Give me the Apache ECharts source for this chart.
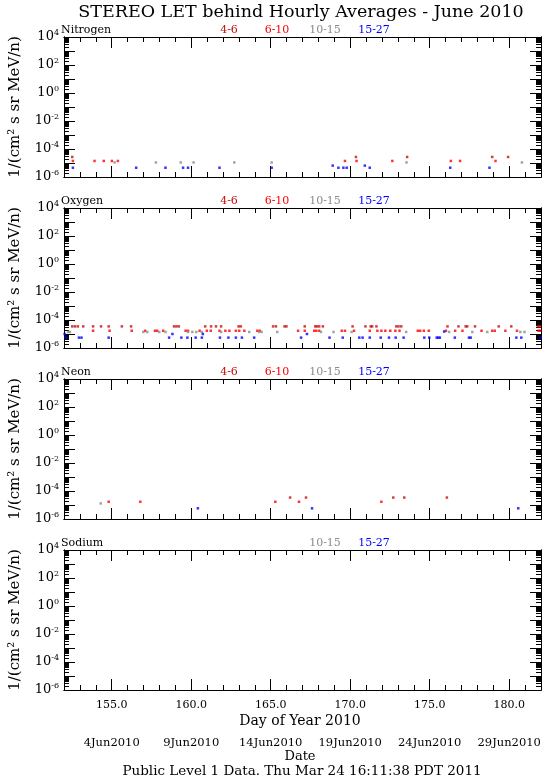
<!DOCTYPE html>
<html><head><meta charset="utf-8">
<script src="https://cdn.jsdelivr.net/npm/echarts@6/dist/echarts.min.js"></script>
<style>html,body{margin:0;padding:0;background:#fff}#c{position:relative;width:545px;height:777px}.p{position:absolute;left:0;width:545px}</style>
</head><body><div id="c"></div>
<script>
const titleText = 'STEREO LET behind Hourly Averages - June 2010';
const panelNames = ['Nitrogen', 'Oxygen', 'Neon', 'Sodium'];
const channelNames = ['4-6', '6-10', '10-15', '15-27'];
const channelColors = ['#c41010', '#ff0000', '#8c8c8c', '#0000ff'];
const panelChannels = [[0,1,2,3],[0,1,2,3],[0,1,2,3],[2,3]];
const dayTicks = [155, 160, 165, 170, 175, 180];
const dateLabels = ['4Jun2010', '9Jun2010', '14Jun2010', '19Jun2010', '24Jun2010', '29Jun2010'];
const decadeTicks = [1e-6, 1e-5, 1e-4, 1e-3, 1e-2, 1e-1, 1, 1e1, 1e2, 1e3, 1e4];
const labelTicks = [1e-6, 1e-4, 1e-2, 1, 1e2, 1e4];
const minorMantissas = [2, 3, 4, 5, 6, 7, 8, 9];
const yUnit = '1/(cm\u00b2 s sr MeV/n)';

// ---- data: [day of year, intensity] ----
const nitrogen_4_6 = [[152.52,2.7e-5],[170.36,2.7e-5],[173.58,2.7e-5],[178.93,2.7e-5],[179.93,2.7e-5]];
const nitrogen_6_10 = [[152.56,1.4e-5],[153.92,1.4e-5],[154.5,1.4e-5],[155.01,1.4e-5],[155.39,1.4e-5],[169.67,1.4e-5],[170.4,1.4e-5],[172.65,1.4e-5],[176.33,1.4e-5],[176.91,1.4e-5],[179.14,1.4e-5]];
const nitrogen_10_15 = [[155.18,1.1e-5],[157.78,1.1e-5],[159.34,1.1e-5],[160.15,1.1e-5],[162.71,1.1e-5],[165.06,1.1e-5],[173.54,1.1e-5],[180.8,1.1e-5]];
const nitrogen_15_27 = [[152.56,4.6e-6],[156.54,4.6e-6],[158.38,4.6e-6],[159.49,4.6e-6],[159.8,4.6e-6],[161.78,4.6e-6],[165.06,4.6e-6],[168.9,6.5e-6],[169.26,4.6e-6],[169.57,4.6e-6],[169.78,4.6e-6],[170.92,6.5e-6],[171.23,4.6e-6],[176.29,4.6e-6],[178.76,4.6e-6]];

const oxygen_4_6 = [[152.52,3.5e-5],[152.69,3.5e-5],[152.87,3.5e-5],[153.21,3.5e-5],[153.83,3.5e-5],[154.33,3.5e-5],[154.81,3.5e-5],[155.64,3.5e-5],[156.22,3.5e-5],[158.92,3.5e-5],[159.07,3.5e-5],[159.22,3.5e-5],[160.88,3.5e-5],[161.25,3.5e-5],[161.56,3.5e-5],[161.88,3.5e-5],[162.98,3.5e-5],[163.12,3.5e-5],[165.15,3.5e-5],[165.33,3.5e-5],[165.87,3.5e-5],[165.99,3.5e-5],[167.14,3.5e-5],[167.8,3.5e-5],[167.91,3.5e-5],[168.05,3.5e-5],[168.28,3.5e-5],[170.15,3.5e-5],[170.96,3.5e-5],[171.29,3.5e-5],[171.38,3.5e-5],[171.65,3.5e-5],[172.9,3.5e-5],[173.04,3.5e-5],[173.21,3.5e-5],[176.12,3.5e-5],[176.81,3.5e-5],[177.26,3.5e-5],[177.36,3.5e-5],[177.85,3.5e-5],[179.34,3.5e-5],[180.13,3.5e-5],[181.8,3.5e-5],[181.94,3.5e-5]];
const oxygen_6_10 = [[153.83,1.7e-5],[154.87,1.7e-5],[156.26,1.7e-5],[157.1,1.7e-5],[157.72,1.7e-5],[157.86,1.7e-5],[158.24,1.7e-5],[159.65,1.7e-5],[159.8,1.7e-5],[160.53,1.7e-5],[160.98,1.7e-5],[161.23,1.7e-5],[161.78,1.7e-5],[162.15,1.7e-5],[162.4,1.7e-5],[162.81,1.7e-5],[163.02,1.7e-5],[163.34,1.7e-5],[164.16,1.7e-5],[164.31,1.7e-5],[166.72,1.7e-5],[167.14,1.7e-5],[167.74,1.7e-5],[167.87,1.7e-5],[168.05,1.7e-5],[169.47,1.7e-5],[169.67,1.7e-5],[170.24,1.7e-5],[171.23,1.7e-5],[171.71,1.7e-5],[171.96,1.7e-5],[172.21,1.7e-5],[172.52,1.7e-5],[172.84,1.7e-5],[173.1,1.7e-5],[174.25,1.7e-5],[174.4,1.7e-5],[174.63,1.7e-5],[174.94,1.7e-5],[176.02,1.7e-5],[176.6,1.7e-5],[177.06,1.7e-5],[178.26,1.7e-5],[178.93,1.7e-5],[179.09,1.7e-5],[179.76,1.7e-5],[180.49,1.7e-5],[181.84,1.7e-5],[181.95,1.7e-5]];
const oxygen_10_15 = [[152.25,1.4e-5],[152.37,1.4e-5],[156.99,1.4e-5],[157.24,1.4e-5],[157.99,1.4e-5],[158.38,1.4e-5],[159.8,1.4e-5],[160.07,1.4e-5],[160.32,1.4e-5],[160.67,1.4e-5],[161.88,1.4e-5],[163.65,1.4e-5],[164.27,1.4e-5],[164.43,1.4e-5],[165.41,1.4e-5],[168.16,1.4e-5],[168.95,1.4e-5],[170.09,1.4e-5],[173.52,1.4e-5],[176.22,1.4e-5],[177.68,1.4e-5],[178.62,1.4e-5],[180.7,1.4e-5],[180.96,1.4e-5]];
const oxygen_15_27 = [[152.04,1.0e-5],[152.12,5.5e-6],[152.94,5.5e-6],[153.1,5.5e-6],[154.81,5.5e-6],[158.61,5.5e-6],[158.82,1.0e-5],[159.38,5.5e-6],[159.76,5.5e-6],[160.28,5.5e-6],[160.67,5.5e-6],[160.73,1.0e-5],[161.81,5.5e-6],[162.34,5.5e-6],[162.81,5.5e-6],[163.19,5.5e-6],[163.96,5.5e-6],[166.91,5.5e-6],[167.28,1.0e-5],[168.7,5.5e-6],[169.53,5.5e-6],[170.57,5.5e-6],[170.78,5.5e-6],[171.23,5.5e-6],[171.92,5.5e-6],[172.44,5.5e-6],[172.86,5.5e-6],[173.36,5.5e-6],[174.66,5.5e-6],[174.97,5.5e-6],[175.44,5.5e-6],[175.54,5.5e-6],[175.64,5.5e-6],[175.91,1.5e-5],[176.58,5.5e-6],[177.47,5.5e-6],[177.58,5.5e-6],[180.45,5.5e-6],[180.76,5.5e-6],[181.97,5.5e-6]];

const neon_4_6 = [[166.22,3.4e-5],[167.22,3.4e-5],[172.71,3.4e-5],[173.4,3.4e-5],[176.08,3.4e-5]];
const neon_6_10 = [[154.81,1.7e-5],[156.8,1.7e-5],[165.29,1.7e-5],[166.78,1.7e-5],[171.96,1.7e-5]];
const neon_10_15 = [[154.31,1.3e-5]];
const neon_15_27 = [[160.42,5.8e-6],[167.6,5.8e-6],[180.57,5.8e-6]];

const sodium_10_15 = [];
const sodium_15_27 = [];

const panelData = [
  [nitrogen_4_6, nitrogen_6_10, nitrogen_10_15, nitrogen_15_27],
  [oxygen_4_6, oxygen_6_10, oxygen_10_15, oxygen_15_27],
  [neon_4_6, neon_6_10, neon_10_15, neon_15_27],
  [[], [], sodium_10_15, sodium_15_27]
];

// ---- layout: one chart instance per panel ----
const FONT = 'DejaVu Serif';
const X_MIN = 152, X_MAX = 182, Y_MIN = 1e-6, Y_MAX = 1e4;
const divTops = [0, 190, 361, 532];
const divHeights = [190, 171, 171, 245];
const gridTopsAbs = [37, 208, 379, 550];
const gridH = 140, gridL = 60, gridW = 481;
const majorLen = 11, minorLen = 5;
const legendX = [229, 277, 325, 374];

const minorY = [];
decadeTicks.slice(0, -1).forEach(d => minorMantissas.forEach(m => minorY.push(+(m * d).toPrecision(3))));

const black = () => ({ color: '#000', width: 1 });
const container = document.getElementById('c');

panelNames.forEach((pname, g) => {
  const div = document.createElement('div');
  div.className = 'p';
  div.style.top = divTops[g] + 'px';
  div.style.height = divHeights[g] + 'px';
  container.appendChild(div);
  const gTop = gridTopsAbs[g] - divTops[g];
  const last = g === panelNames.length - 1;

  const xAxes = [];
  ['bottom', 'top'].forEach(pos => {
    xAxes.push({
      type: 'value', position: pos, min: X_MIN, max: X_MAX, interval: 1,
      axisLine: { show: true, lineStyle: black() }, splitLine: { show: false },
      axisTick: { show: true, inside: true, length: minorLen, lineStyle: black() },
      axisLabel: { show: false }
    });
    xAxes.push({
      type: 'value', position: pos, min: X_MIN, max: X_MAX,
      axisLine: { show: true, lineStyle: black() }, splitLine: { show: false },
      axisTick: { show: true, inside: true, length: majorLen, lineStyle: black() },
      axisLabel: {
        show: last && pos === 'bottom', margin: 15, verticalAlign: 'middle',
        showMinLabel: false, showMaxLabel: false,
        formatter: v => dayTicks.includes(v) ? Number(v).toFixed(1) : '',
        fontFamily: FONT, fontSize: 11, color: '#000'
      }
    });
  });
  const yAxes = [];
  ['left', 'right'].forEach(pos => {
    yAxes.push({
      type: 'log', logBase: 10, position: pos, min: Y_MIN, max: Y_MAX,
      axisLine: { show: true, lineStyle: black() }, splitLine: { show: false },
      axisTick: { show: true, inside: true, length: majorLen, lineStyle: black(), customValues: decadeTicks },
      axisLabel: {
        show: pos === 'left', customValues: labelTicks, margin: 5,
        formatter: v => '{b|10}{s|' + Math.round(Math.log10(v)) + '}',
        rich: {
          b: { fontFamily: FONT, fontSize: 13, lineHeight: 16, color: '#000' },
          s: { fontFamily: FONT, fontSize: 8, lineHeight: 8, verticalAlign: 'top', color: '#000' }
        }
      },
      name: pos === 'left' ? yUnit : '', nameLocation: 'middle', nameGap: 41, nameRotate: 90,
      nameTextStyle: { fontFamily: FONT, fontSize: 15, color: '#000' }
    });
    yAxes.push({
      type: 'log', logBase: 10, position: pos, min: Y_MIN, max: Y_MAX,
      axisLine: { show: true, lineStyle: black() }, splitLine: { show: false },
      axisTick: { show: true, inside: true, length: minorLen, lineStyle: black(), customValues: minorY },
      axisLabel: { show: false }
    });
  });

  const series = [];
  panelData[g].forEach((data, c) => {
    if (!panelChannels[g].includes(c)) return;
    series.push({
      type: 'scatter', xAxisIndex: 0, yAxisIndex: 0, data: data,
      symbol: 'rect', symbolSize: 2.5, itemStyle: { color: channelColors[c] }
    });
  });

  const graphics = [];
  graphics.push({ id: 'pn', type: 'text', x: 61, y: gTop - 6.5, style: { text: pname, font: '11px "' + FONT + '"', fill: '#000', textAlign: 'left', verticalAlign: 'middle' } });
  panelChannels[g].forEach(c => {
    graphics.push({ id: 'lg' + c, type: 'text', x: legendX[c], y: gTop - 6.5, style: { text: channelNames[c], font: '11px "' + FONT + '"', fill: channelColors[c], textAlign: 'center', verticalAlign: 'middle' } });
  });
  if (g === 0) {
    graphics.push({ id: 'title', type: 'text', x: 301, y: 12, style: { text: titleText, font: '17.5px "' + FONT + '"', fill: '#000', textAlign: 'center', verticalAlign: 'middle' } });
  }
  if (last) {
    const base = divTops[g];
    graphics.push({ id: 'xname', type: 'text', x: 300, y: 721 - base, style: { text: 'Day of Year 2010', font: '14px "' + FONT + '"', fill: '#000', textAlign: 'center', verticalAlign: 'middle' } });
    graphics.push({ id: 'dname', type: 'text', x: 300, y: 757 - base, style: { text: 'Date', font: '13px "' + FONT + '"', fill: '#000', textAlign: 'center', verticalAlign: 'middle' } });
    graphics.push({ id: 'foot', type: 'text', x: 302, y: 771 - base, style: { text: 'Public Level 1 Data. Thu Mar 24 16:11:38 PDT 2011', font: '13.5px "' + FONT + '"', fill: '#000', textAlign: 'center', verticalAlign: 'middle' } });
  }

  const chart = echarts.init(div);
  chart.setOption({
    animation: false,
    grid: [{ left: gridL, top: gTop, width: gridW, height: gridH }],
    xAxis: xAxes, yAxis: yAxes, series: series, graphic: graphics
  });

  if (last) {
    // calendar-date labels placed through the chart's own x scale
    const dateEls = dayTicks.map((d, k) => ({
      id: 'date' + k, type: 'text',
      x: chart.convertToPixel({ xAxisIndex: 0 }, d), y: 743 - divTops[g],
      style: { text: dateLabels[k], font: '11.5px "' + FONT + '"', fill: '#000', textAlign: 'center', verticalAlign: 'middle' }
    }));
    chart.setOption({ graphic: graphics.concat(dateEls) });
  }
});
</script></body></html>
